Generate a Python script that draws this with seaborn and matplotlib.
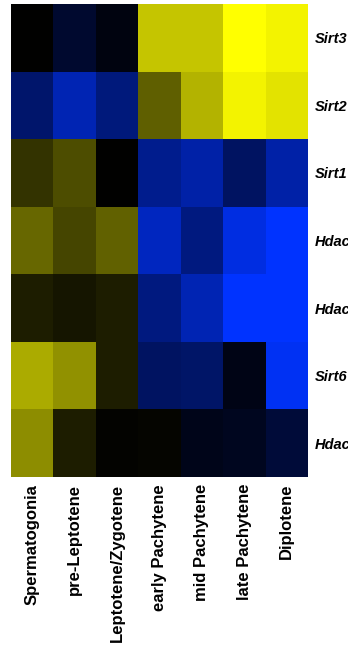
import numpy as np
import pandas as pd
import seaborn as sns
import matplotlib.pyplot as plt
from matplotlib.colors import LinearSegmentedColormap

stages = ['Spermatogonia', 'pre-Leptotene', 'Leptotene/Zygotene', 'early Pachytene',
          'mid Pachytene', 'late Pachytene', 'Diplotene']
genes = ['Sirt3', 'Sirt2', 'Sirt1', 'Hdac1', 'Hdac2', 'Sirt6', 'Hdac3']

# relative expression (blue = down, yellow = up)
sirt3 = [0.00, -0.18, -0.06, 0.77, 0.77, 1.00, 0.95]
sirt2 = [-0.42, -0.70, -0.48, 0.37, 0.70, 0.95, 0.89]
sirt1 = [0.20, 0.30, 0.00, -0.55, -0.65, -0.38, -0.65]
hdac1 = [0.40, 0.27, 0.38, -0.75, -0.50, -0.88, -1.00]
hdac2 = [0.11, 0.08, 0.11, -0.50, -0.70, -1.00, -1.00]
sirt6 = [0.67, 0.57, 0.11, -0.38, -0.40, -0.08, -0.95]
hdac3 = [0.55, 0.11, 0.01, 0.02, -0.10, -0.12, -0.22]

data = pd.DataFrame([sirt3, sirt2, sirt1, hdac1, hdac2, sirt6, hdac3],
                    index=genes, columns=stages)

cmap = LinearSegmentedColormap.from_list('bky', [(0.0, 0.2, 1.0), (0, 0, 0), (1.0, 1.0, 0.0)])

plt.rcParams['font.family'] = ['Liberation Sans', 'DejaVu Sans']
fig = plt.figure(figsize=(3.48, 6.51), dpi=100)
ax = fig.add_axes([11/348, 1 - 477/651, 297/348, 473/651])
sns.heatmap(data, cmap=cmap, vmin=-1, vmax=1, cbar=False, ax=ax)

ax.yaxis.tick_right()
ax.set_yticklabels(genes, rotation=0, fontsize=10.5, fontweight='bold', fontstyle='italic')
ax.set_xticklabels(stages, rotation=90, fontsize=12, fontweight='bold')
ax.tick_params(length=0, pad=5)
ax.set_xlabel('')
ax.set_ylabel('')

fig.savefig('out.png', dpi=100)
